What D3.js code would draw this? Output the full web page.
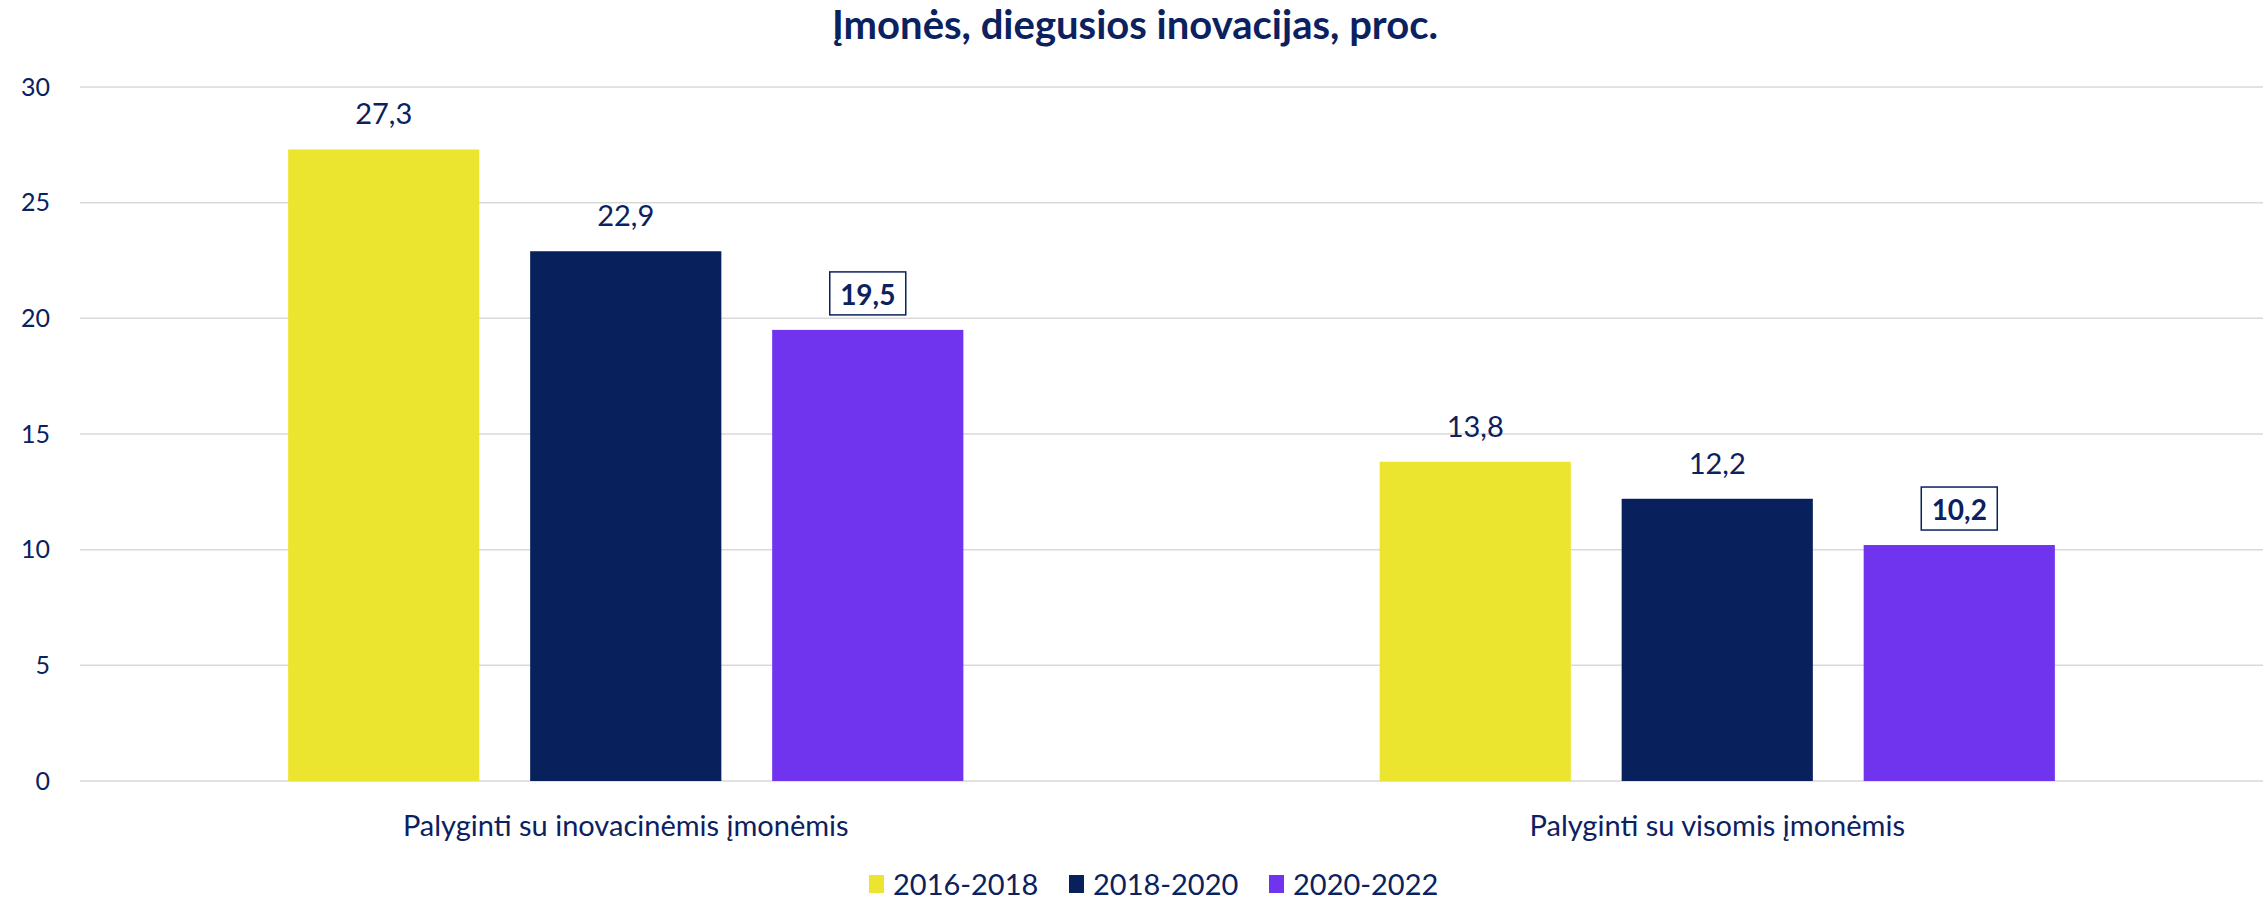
<!DOCTYPE html>
<html>
<head>
<meta charset="utf-8">
<script src="https://cdn.jsdelivr.net/npm/d3@7"></script>
<style>
  body { margin: 0; background: #fff; }
  svg text { fill: #0b2160; }
</style>
</head>
<body>
<div id="chart"></div>
<script>
const categories = ['Palyginti su inovacinėmis įmonėmis', 'Palyginti su visomis įmonėmis'];
const seriesNames = ['2016-2018', '2018-2020', '2020-2022'];
const values2016 = [27.3, 13.8];
const values2018 = [22.9, 12.2];
const values2020 = [19.5, 10.2];
const yTicks = [0, 5, 10, 15, 20, 25, 30];
const highlighted = '2020-2022'; // boxed bold labels

const colors = ['#ece52f', '#08215c', '#7033ee'];
const textFont = 'Lato, "Open Sans", sans-serif';
const tickFont = 'Lato, "DejaVu Sans", sans-serif';

const width = 2267, height = 901;
const margin = {top: 87, right: 4, bottom: 120, left: 80};
const innerW = width - margin.left - margin.right;
const innerH = height - margin.top - margin.bottom;

const rows = categories.map((c, i) => ({
  category: c,
  values: [values2016[i], values2018[i], values2020[i]].map((v, j) => ({series: seriesNames[j], value: v, color: colors[j]}))
}));

const svg = d3.select('#chart').append('svg')
    .attr('width', width)
    .attr('height', height);

svg.append('text')
    .attr('x', 1135)
    .attr('y', 39)
    .attr('text-anchor', 'middle')
    .style('font-family', textFont)
    .style('font-weight', 'bold')
    .style('font-size', '40px')
    .text('Įmonės, diegusios inovacijas, proc.');

const g = svg.append('g').attr('transform', `translate(${margin.left},${margin.top})`);

const x0 = d3.scaleBand().domain(categories).range([0, innerW]);
const x1 = d3.scaleBand().domain(seriesNames).range([0, x0.bandwidth()])
    .paddingInner(0.21).paddingOuter(0.86);
const y = d3.scaleLinear().domain([0, 30]).range([innerH, 0]);

// gridlines
g.append('g')
    .selectAll('line')
    .data(yTicks)
    .join('line')
    .attr('x1', 0)
    .attr('x2', innerW)
    .attr('y1', (d) => y(d))
    .attr('y2', (d) => y(d))
    .attr('stroke', '#d9d9d9')
    .attr('stroke-width', 1.5);

// y axis labels
const yAxis = g.append('g')
    .call(d3.axisLeft(y).tickValues(yTicks).tickSize(0).tickPadding(30));
yAxis.select('.domain').remove();
yAxis.selectAll('text')
    .style('font-family', tickFont)
    .style('font-size', '25px')
    .attr('fill', '#0b2160');

const groups = g.selectAll('.group')
    .data(rows)
    .join('g')
    .attr('class', 'group')
    .attr('transform', (d) => `translate(${x0(d.category)},0)`);

groups.selectAll('rect')
    .data((d) => d.values)
    .join('rect')
    .attr('x', (d) => x1(d.series))
    .attr('y', (d) => y(d.value))
    .attr('width', x1.bandwidth())
    .attr('height', (d) => innerH - y(d.value))
    .attr('fill', (d) => d.color);

const fmt = (v) => d3.format('.1f')(v).replace('.', ',');

groups.selectAll('.lbl')
    .data((d) => d.values)
    .join('g')
    .attr('class', 'lbl')
    .each(function(d) {
      const cell = d3.select(this);
      const cx = x1(d.series) + x1.bandwidth() / 2;
      const isHi = d.series === highlighted;
      if (isHi) {
        cell.append('rect')
            .attr('x', cx - 38)
            .attr('y', y(d.value) - 58)
            .attr('width', 76)
            .attr('height', 43)
            .attr('fill', '#fff')
            .attr('stroke', '#0b2160')
            .attr('stroke-width', 1.5);
      }
      cell.append('text')
          .attr('x', cx)
          .attr('y', y(d.value) - 25)
          .attr('text-anchor', 'middle')
          .style('font-family', textFont)
          .style('font-size', isHi ? '28px' : '29px')
          .style('font-weight', isHi ? 'bold' : 'normal')
          .text(fmt(d.value));
    });

// category labels
g.append('g')
    .selectAll('text')
    .data(categories)
    .join('text')
    .attr('x', (d) => x0(d) + x0.bandwidth() / 2)
    .attr('y', innerH + 55)
    .attr('text-anchor', 'middle')
    .style('font-family', textFont)
    .style('font-size', '29px')
    .text((d) => d);

// legend
const legend = svg.append('g').attr('transform', 'translate(869,0)');
const item = legend.selectAll('g')
    .data(seriesNames)
    .join('g')
    .attr('transform', (d, i) => `translate(${i * 200},0)`);
item.append('rect')
    .attr('x', 0)
    .attr('y', 875)
    .attr('width', 15)
    .attr('height', 18)
    .attr('fill', (d, i) => colors[i]);
item.append('text')
    .attr('x', 24)
    .attr('y', 895)
    .style('font-family', textFont)
    .style('font-size', '29px')
    .text((d) => d);
</script>
</body>
</html>
